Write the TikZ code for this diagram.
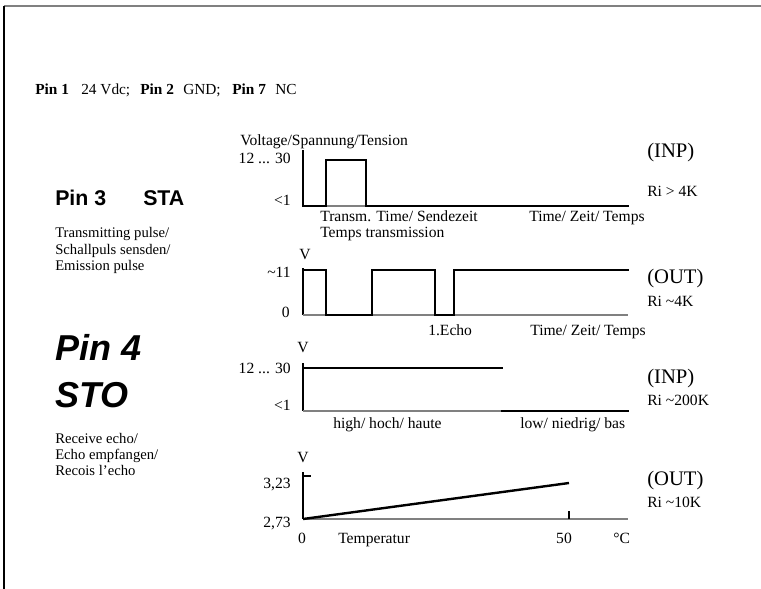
\documentclass[tikz,border=0pt]{standalone}
\usepackage{fontspec}
\setmainfont{Liberation Serif}
\newfontfamily\arialf{Liberation Sans}
\begin{document}
\begin{tikzpicture}[x=0.75pt,y=-0.75pt,
  lbl/.style={font=\fontsize{11.7}{13}\selectfont, inner sep=0pt},
  desc/.style={font=\fontsize{11}{13}\selectfont, inner sep=0pt, anchor=base west},
  hdr/.style={font=\fontsize{11.5}{13}\selectfont, inner sep=0pt, anchor=base west},
  tag/.style={font=\fontsize{15.5}{18}\selectfont, inner sep=0pt, anchor=base west},
  pinmid/.style={font=\arialf\bfseries\fontsize{16}{19}\selectfont, inner sep=0pt, anchor=base west},
  pinbig/.style={font=\arialf\bfseries\itshape\fontsize{27}{30}\selectfont, inner sep=0pt, anchor=base west},
  sig/.style={line width=1.8pt, line join=miter, line cap=rect},
  axis/.style={line width=0.8pt},
  base/.style={line width=1.1pt, gray}
]
\useasboundingbox (0,0) rectangle (761,589);
% frame
\draw[gray, line width=1.5pt] (4,6) -- (761,6);
\draw[line width=1.2pt] (4,6) -- (4,589);

% header line
\node[hdr] (p1) at (35,94) {\bfseries Pin 1};
\node[hdr] (v24) at (81,94) {24 Vdc;};
\node[hdr] (p2) at (140,94) {\bfseries Pin 2};
\node[hdr] (gnd) at (183,94) {GND;};
\node[hdr] (p7) at (232,94) {\bfseries Pin 7};
\node[hdr] (nc) at (275,94) {NC};

% left texts
\node[pinmid] (pin3) at (55,205) {Pin 3};
\node[pinmid] (sta) at (143,205) {STA};
\node[desc] (d1) at (55,237) {Transmitting pulse/};
\node[desc] (d2) at (55,254) {Schallpuls sensden/};
\node[desc] (d3) at (55,270) {Emission pulse};
\node[pinbig] (pin4) at (55,360) {Pin 4};
\node[pinbig] (sto) at (55,407) {STO};
\node[desc] (e1) at (55,443) {Receive echo/};
\node[desc] (e2) at (55,459) {Echo empfangen/};
\node[desc] (e3) at (55,475) {Recois l'echo};

% chart 1
\node[lbl, anchor=base west] (volt) at (240,145) {Voltage/Spannung/Tension};
\node[lbl, anchor=base east] (c1hi) at (291,163) {12 ... 30};
\node[lbl, anchor=base east] (c1lo) at (291,205) {<1};
\draw[axis] (303,150) -- (303,206);
\draw[base] (303,206) -- (628,206);
\draw[sig] (303,206) -- (326,206) -- (326,160) -- (366,160) -- (366,206) -- (628,206);
\node[lbl, anchor=base west] (tt1) at (320,221) {Transm. Time/ Sendezeit};
\node[lbl, anchor=base west] (tt2) at (320,237) {Temps transmission};
\node[lbl, anchor=base west] (tz1) at (529,221) {Time/ Zeit/ Temps};
\node[tag] (inp1) at (647,157) {(INP)};
\node[lbl, anchor=base west] (ri1) at (647,196) {Ri > 4K};

% chart 2
\node[lbl] (v2) at (305,255) {V};
\node[lbl, anchor=base east] (c2hi) at (291,277) {\char`\~11};
\node[lbl, anchor=base east] (c2lo) at (290,317) {0};
\draw[axis] (303,268) -- (303,315);
\draw[base] (303,315) -- (628,315);
\draw[sig] (303,270) -- (326,270) -- (326,315) -- (372,315) -- (372,270) -- (435,270) -- (435,315) -- (454,315) -- (454,270) -- (628,270);
\node[lbl, anchor=base west] (echo) at (428,335) {1.Echo};
\node[lbl, anchor=base west] (tz2) at (530,335) {Time/ Zeit/ Temps};
\node[tag] (out2) at (647,283) {(OUT)};
\node[lbl, anchor=base west] (ri2) at (647,306) {Ri \char`\~4K};

% chart 3
\node[lbl] (v3) at (303,348) {V};
\node[lbl, anchor=base east] (c3hi) at (291,373) {12 ... 30};
\node[lbl, anchor=base east] (c3lo) at (291,410) {<1};
\draw[axis] (303,363) -- (303,411);
\draw[base] (303,411) -- (502,411);
\draw[sig] (303,368) -- (502,368);
\draw[sig] (502,411) -- (628,411);
\node[lbl, anchor=base west] (hi3) at (333,428) {high/ hoch/ haute};
\node[lbl, anchor=base west] (lo3) at (520,428) {low/ niedrig/ bas};
\node[tag] (inp3) at (647,383) {(INP)};
\node[lbl, anchor=base west] (ri3) at (647,405) {Ri \char`\~200K};

% chart 4
\node[lbl] (v4) at (303,458) {V};
\node[lbl, anchor=base east] (c4hi) at (291,488) {3,23};
\node[lbl, anchor=base east] (c4lo) at (291,527) {2,73};
\draw[axis] (303,472) -- (303,519);
\draw[axis] (303,476) -- (311,476);
\draw[base] (303,519) -- (628,519);
\draw[axis] (569,511) -- (569,519);
\draw[sig, line cap=butt] (303,519) -- (569,483);
\node[lbl, anchor=base] (z4) at (302,543) {0};
\node[lbl, anchor=base west] (temp) at (338,543) {Temperatur};
\node[lbl, anchor=base] (f4) at (564,543) {50};
\node[lbl, anchor=base west] (deg) at (613,543) {°C};
\node[tag] (out4) at (647,485) {(OUT)};
\node[lbl, anchor=base west] (ri4) at (647,507) {Ri \char`\~10K};
\end{tikzpicture}
\end{document}
